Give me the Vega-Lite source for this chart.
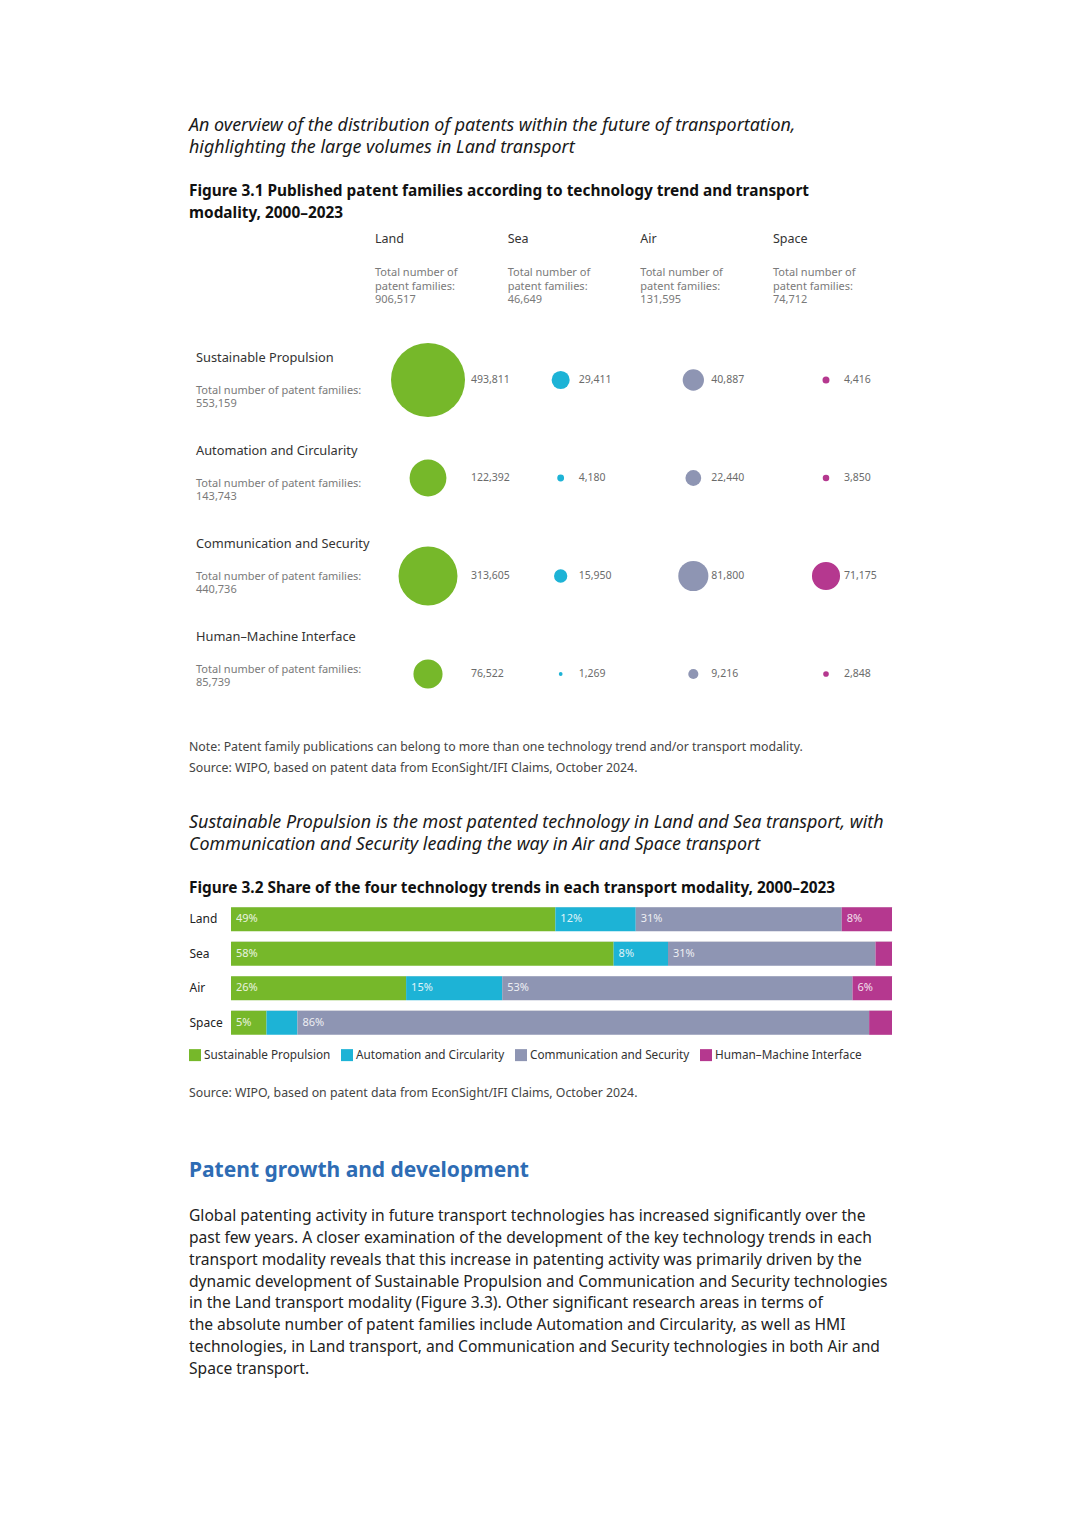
{
  "$schema": "https://vega.github.io/schema/vega-lite/v6.json",
  "background": "white",
  "padding": {"left": 189, "top": 116, "right": 0, "bottom": 24},
  "config": {
    "view": {"stroke": null},
    "font": "Noto Sans",
    "title": {"anchor": "start"},
    "legend": {
      "direction": "horizontal", "padding": 0,
      "symbolType": "square", "symbolSize": 144, "symbolStrokeWidth": 0,
      "labelFont": "Noto Sans", "labelFontSize": 11.75, "labelColor": "#333333",
      "columnPadding": 10, "labelOffset": 3, "labelLimit": 0
    }
  },
  "resolve": {"scale": {"color": "independent"}, "legend": {"color": "independent"}},
  "datasets": {
    "patents": [
      {"technology": "Sustainable Propulsion", "modality": "Land", "families": 493811},
      {"technology": "Sustainable Propulsion", "modality": "Sea", "families": 29411},
      {"technology": "Sustainable Propulsion", "modality": "Air", "families": 40887},
      {"technology": "Sustainable Propulsion", "modality": "Space", "families": 4416},
      {"technology": "Automation and Circularity", "modality": "Land", "families": 122392},
      {"technology": "Automation and Circularity", "modality": "Sea", "families": 4180},
      {"technology": "Automation and Circularity", "modality": "Air", "families": 22440},
      {"technology": "Automation and Circularity", "modality": "Space", "families": 3850},
      {"technology": "Communication and Security", "modality": "Land", "families": 313605},
      {"technology": "Communication and Security", "modality": "Sea", "families": 15950},
      {"technology": "Communication and Security", "modality": "Air", "families": 81800},
      {"technology": "Communication and Security", "modality": "Space", "families": 71175},
      {"technology": "Human–Machine Interface", "modality": "Land", "families": 76522},
      {"technology": "Human–Machine Interface", "modality": "Sea", "families": 1269},
      {"technology": "Human–Machine Interface", "modality": "Air", "families": 9216},
      {"technology": "Human–Machine Interface", "modality": "Space", "families": 2848}
    ],
    "modal": [
      {"modality": "Land", "total": 906517},
      {"modality": "Sea", "total": 46649},
      {"modality": "Air", "total": 131595},
      {"modality": "Space", "total": 74712}
    ],
    "tech": [
      {"technology": "Sustainable Propulsion", "total": 553159},
      {"technology": "Automation and Circularity", "total": 143743},
      {"technology": "Communication and Security", "total": 440736},
      {"technology": "Human–Machine Interface", "total": 85739}
    ]
  },
  "spacing": 39,
  "vconcat": [
    {
      "title": {
        "text": ["Note: Patent family publications can belong to more than one technology trend and/or transport modality.", "Source: WIPO, based on patent data from EconSight/IFI Claims, October 2024."],
        "orient": "bottom", "anchor": "start", "font": "Noto Sans", "fontSize": 12.3, "fontWeight": "normal",
        "color": "#444444", "lineHeight": 21, "offset": 18
      },
      "vconcat": [
        {
          "width": 720,
          "height": 490,
          "title": {
            "text": ["An overview of the distribution of patents within the future of transportation,", "highlighting the large volumes in Land transport"],
            "subtitle": ["Figure 3.1 Published patent families according to technology trend and transport", "modality, 2000–2023"],
            "font": "Noto Sans", "fontSize": 17.9, "fontStyle": "italic", "fontWeight": "normal", "color": "#1a1a1a", "lineHeight": 22,
            "subtitleFont": "Noto Sans", "subtitleFontSize": 15.4, "subtitleFontWeight": "bold", "subtitleColor": "#111111",
            "subtitleLineHeight": 22, "subtitlePadding": 27, "anchor": "start", "frame": "group", "dx": -42, "offset": 12
          },
          "resolve": {"scale": {"y": "independent"}},
          "layer": [
            {
              "data": {"name": "modal"},
              "mark": {"type": "text", "align": "left", "baseline": "middle", "dx": -53, "dy": -43, "fontSize": 12.5, "color": "#333333"},
              "encoding": {
                "x": {"field": "modality", "type": "nominal", "scale": {"type": "point", "domain": ["Land", "Sea", "Air", "Space"], "range": [197, 595], "padding": 0}, "axis": null},
                "y": {"datum": "Header", "type": "nominal", "scale": {"type": "point", "domain": ["Header", "Sustainable Propulsion", "Automation and Circularity", "Communication and Security", "Human–Machine Interface"], "padding": 0.5}, "axis": null},
                "text": {"field": "modality"}
              }
            },
            {
              "data": {"name": "modal"},
              "transform": [{"calculate": "'Total number of\\npatent families:\\n' + format(datum.total, ',')", "as": "label"}],
              "mark": {"type": "text", "align": "left", "baseline": "middle", "dx": -53, "dy": -9, "fontSize": 11, "lineHeight": 13.5, "lineBreak": "\n", "color": "#7a7a7a"},
              "encoding": {
                "x": {"field": "modality", "type": "nominal", "axis": null},
                "y": {"datum": "Header", "type": "nominal", "scale": {"type": "point", "domain": ["Header", "Sustainable Propulsion", "Automation and Circularity", "Communication and Security", "Human–Machine Interface"], "padding": 0.5}, "axis": null},
                "text": {"field": "label"}
              }
            },
            {
              "data": {"name": "tech"},
              "layer": [
                {
                  "mark": {"type": "text", "align": "left", "baseline": "middle", "dx": -232, "fontSize": 12.8, "color": "#333333"},
                  "encoding": {
                    "x": {"datum": "Land", "type": "nominal", "axis": null},
                    "y": {"field": "technology", "type": "nominal", "scale": {"type": "point", "domain": ["Sustainable Propulsion", "Automation and Circularity", "Communication and Security", "Human–Machine Interface"], "range": [124.7, 404.3], "padding": 0}, "axis": null},
                    "text": {"field": "technology"}
                  }
                },
                {
                  "transform": [{"calculate": "'Total number of patent families:\\n' + format(datum.total, ',')", "as": "label"}],
                  "mark": {"type": "text", "align": "left", "baseline": "middle", "dx": -232, "dy": 33, "fontSize": 11, "lineHeight": 13, "lineBreak": "\n", "color": "#7a7a7a"},
                  "encoding": {
                    "x": {"datum": "Land", "type": "nominal", "axis": null},
                    "y": {"field": "technology", "type": "nominal", "axis": null},
                    "text": {"field": "label"}
                  }
                }
              ]
            },
            {
              "data": {"name": "patents"},
              "layer": [
                {
                  "mark": {"type": "point", "filled": true, "opacity": 1, "shape": "circle", "strokeWidth": 0},
                  "encoding": {
                    "x": {"field": "modality", "type": "nominal", "axis": null},
                    "y": {"field": "technology", "type": "nominal", "scale": {"type": "point", "domain": ["Header", "Sustainable Propulsion", "Automation and Circularity", "Communication and Security", "Human–Machine Interface"], "padding": 0.5}, "axis": null},
                    "size": {"field": "families", "type": "quantitative", "scale": {"type": "linear", "domain": [0, 493811], "range": [0, 5476]}, "legend": null},
                    "fill": {"field": "modality", "type": "nominal", "scale": {"domain": ["Land", "Sea", "Air", "Space"], "range": ["#76b82a", "#1db3d6", "#8e95b3", "#b5388f"]}, "legend": null}
                  }
                },
                {
                  "transform": [{"filter": "datum.modality === 'Land'"}],
                  "mark": {"type": "text", "align": "left", "baseline": "middle", "dx": 43, "fontSize": 10.5, "color": "#6b6b6b"},
                  "encoding": {
                    "x": {"field": "modality", "type": "nominal", "axis": null},
                    "y": {"field": "technology", "type": "nominal", "axis": null},
                    "text": {"field": "families", "type": "quantitative", "format": ","}
                  }
                },
                {
                  "transform": [{"filter": "datum.modality !== 'Land'"}],
                  "mark": {"type": "text", "align": "left", "baseline": "middle", "dx": 18, "fontSize": 10.5, "color": "#6b6b6b"},
                  "encoding": {
                    "x": {"field": "modality", "type": "nominal", "axis": null},
                    "y": {"field": "technology", "type": "nominal", "axis": null},
                    "text": {"field": "families", "type": "quantitative", "format": ","}
                  }
                }
              ]
            }
          ]
        }
      ]
    },
    {
      "title": {
        "text": "Patent growth and development",
        "subtitle": [
          "Global patenting activity in future transport technologies has increased significantly over the",
          "past few years. A closer examination of the development of the key technology trends in each",
          "transport modality reveals that this increase in patenting activity was primarily driven by the",
          "dynamic development of Sustainable Propulsion and Communication and Security technologies",
          "in the Land transport modality (Figure 3.3). Other significant research areas in terms of",
          "the absolute number of patent families include Automation and Circularity, as well as HMI",
          "technologies, in Land transport, and Communication and Security technologies in both Air and",
          "Space transport."
        ],
        "orient": "bottom", "anchor": "start", "font": "Noto Sans", "fontSize": 21, "fontWeight": "bold", "color": "#2e6cb4",
        "subtitleFont": "Noto Sans", "subtitleFontSize": 15.6, "subtitleColor": "#222222", "subtitleLineHeight": 21.8,
        "subtitlePadding": 28, "offset": 61
      },
      "resolve": {"scale": {"color": "independent"}, "legend": {"color": "independent"}},
      "vconcat": [
        {
          "title": {
            "text": "Source: WIPO, based on patent data from EconSight/IFI Claims, October 2024.",
            "orient": "bottom", "anchor": "start", "font": "Noto Sans", "fontSize": 12.3, "fontWeight": "normal",
            "color": "#444444", "offset": 25
          },
          "resolve": {"scale": {"color": "independent"}, "legend": {"color": "independent"}},
          "vconcat": [
            {
              "width": 661,
              "height": 138,
              "title": {
                "text": ["Sustainable Propulsion is the most patented technology in Land and Sea transport, with", "Communication and Security leading the way in Air and Space transport"],
                "subtitle": "Figure 3.2 Share of the four technology trends in each transport modality, 2000–2023",
                "font": "Noto Sans", "fontSize": 17.9, "fontStyle": "italic", "fontWeight": "normal", "color": "#1a1a1a", "lineHeight": 22,
                "subtitleFont": "Noto Sans", "subtitleFontSize": 15.4, "subtitleFontWeight": "bold", "subtitleColor": "#111111",
                "subtitleLineHeight": 22, "subtitlePadding": 27, "anchor": "start", "offset": 5.5
              },
              "data": {"name": "patents"},
              "transform": [
                {"joinaggregate": [{"op": "sum", "field": "families", "as": "modTotal"}], "groupby": ["modality"]},
                {"calculate": "datum.families / datum.modTotal", "as": "share"},
                {"calculate": "indexof(['Sustainable Propulsion', 'Automation and Circularity', 'Communication and Security', 'Human–Machine Interface'], datum.technology)", "as": "techOrder"},
                {"stack": "share", "groupby": ["modality"], "sort": [{"field": "techOrder", "order": "ascending"}], "as": ["s0", "s1"]}
              ],
              "layer": [
                {
                  "mark": {"type": "bar"},
                  "encoding": {
                    "y": {"field": "modality", "type": "nominal", "sort": ["Land", "Sea", "Air", "Space"],
                      "scale": {"paddingInner": 0.3, "paddingOuter": 0.15},
                      "axis": {"title": null, "domain": false, "ticks": false, "tickSize": 0, "labelAlign": "left", "labelPadding": 42,
                        "labelFont": "Noto Sans", "labelFontSize": 12, "labelColor": "#222222", "grid": true, "gridColor": "#ececec", "bandPosition": 0}},
                    "x": {"field": "s0", "type": "quantitative", "scale": {"domain": [0, 1]}, "axis": null},
                    "x2": {"field": "s1"},
                    "color": {"field": "technology", "type": "nominal",
                      "scale": {"domain": ["Sustainable Propulsion", "Automation and Circularity", "Communication and Security", "Human–Machine Interface"], "range": ["#76b82a", "#1db3d6", "#8e95b3", "#b5388f"]},
                      "legend": {"title": null, "orient": "none", "legendX": -42, "legendY": 147, "direction": "horizontal"}}
                  }
                },
                {
                  "transform": [{"filter": "datum.share >= 0.05"}],
                  "mark": {"type": "text", "align": "left", "baseline": "middle", "dx": 5, "fontSize": 11, "color": "white", "opacity": 0.85},
                  "encoding": {
                    "y": {"field": "modality", "type": "nominal", "sort": ["Land", "Sea", "Air", "Space"]},
                    "x": {"field": "s0", "type": "quantitative"},
                    "text": {"field": "share", "type": "quantitative", "format": ".0%"}
                  }
                }
              ]
            }
          ]
        }
      ]
    }
  ]
}
